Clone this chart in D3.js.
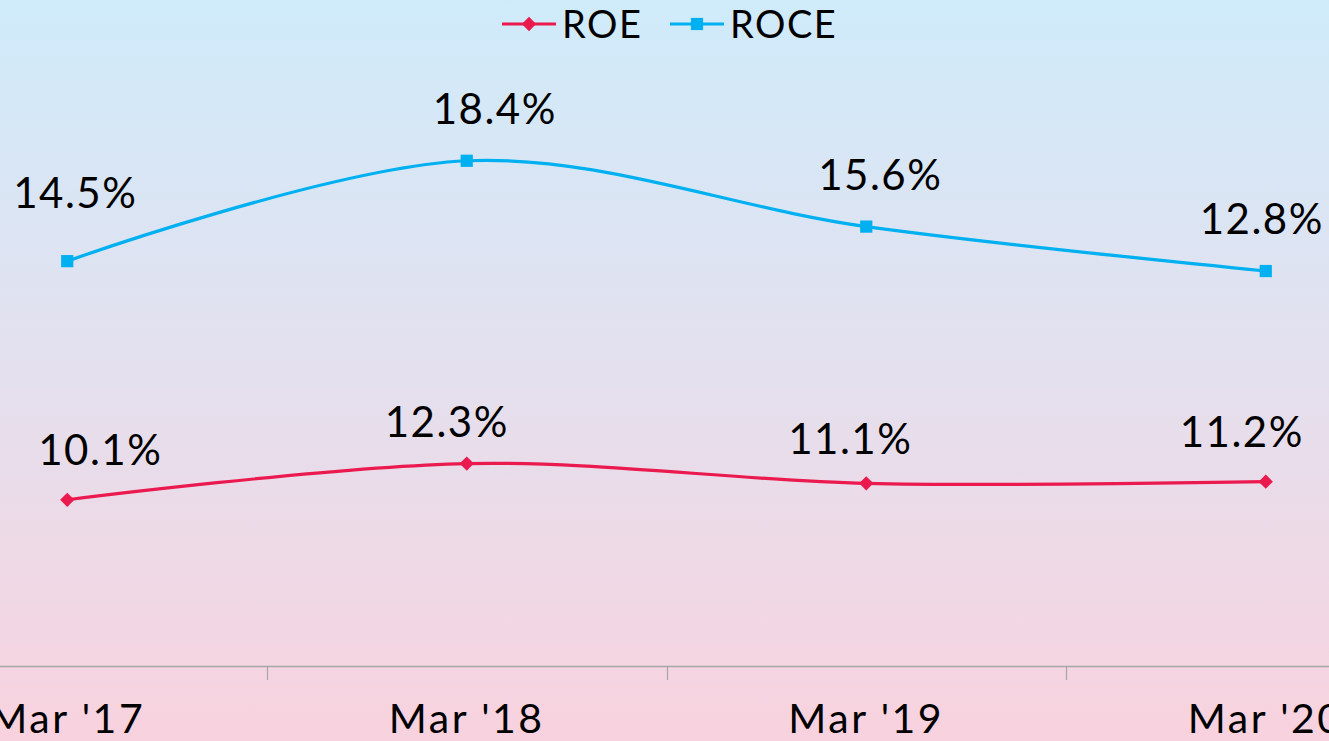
<!DOCTYPE html>
<meta charset="utf-8">
<style>
  html, body { margin: 0; padding: 0; overflow: hidden; }
  text { font-family: "Lato", "Open Sans", sans-serif; fill: #000; }
</style>
<script src="https://cdnjs.cloudflare.com/ajax/libs/d3/7.8.5/d3.min.js"></script>
<div id="chart"></div>
<script>
  // data
  var periods = ["Mar '17", "Mar '18", "Mar '19", "Mar '20"];
  var roe = [10.1, 12.3, 11.1, 11.2];
  var roce = [14.5, 18.4, 15.6, 12.8];

  // label nudges (dx, dy from point) - placed by hand like the original
  var roeNudge = [[33, -35], [-20, -27], [-16, -29], [-24, -35]];
  var roceNudge = [[8, -53], [28, -37], [14, -37], [-4, -37]];

  var W = 1329, H = 741;

  var svg = d3.select("#chart").append("svg")
    .attr("width", W)
    .attr("height", H);

  // background gradient
  var grad = svg.append("defs").append("linearGradient")
    .attr("id", "bg")
    .attr("x1", 0).attr("y1", 0).attr("x2", 0).attr("y2", 1);
  grad.append("stop").attr("offset", "0%").attr("stop-color", "#cfebfa");
  grad.append("stop").attr("offset", "50%").attr("stop-color", "#e4e0ee");
  grad.append("stop").attr("offset", "100%").attr("stop-color", "#f8d2de");

  svg.append("rect")
    .attr("width", W).attr("height", H)
    .attr("fill", "url(#bg)");

  // stacked lines: ROCE sits on top of ROE
  var rows = periods.map(function (p, i) { return { period: p, ROE: roe[i], ROCE: roce[i] } });
  var stack = d3.stack().keys(["ROE", "ROCE"])(rows);

  var x = d3.scaleBand()
    .domain(periods)
    .range([-132.5, 1465.5]);

  var y = d3.scaleLinear()
    .domain([0, 35])
    .range([666, 90]);

  var cx = function (p) { return x(p) + x.bandwidth() / 2 };

  // x axis
  var axisY = y(0);
  svg.append("line")
    .attr("x1", 0).attr("x2", W)
    .attr("y1", axisY + 0.5).attr("y2", axisY + 0.5)
    .attr("stroke", "#a6a6a6")
    .attr("stroke-width", 1.5);

  svg.selectAll(".tick")
    .data(periods.slice(1))
    .enter().append("line")
    .attr("class", "tick")
    .attr("x1", function (d) { return Math.round(x(d)) + 0.5 })
    .attr("x2", function (d) { return Math.round(x(d)) + 0.5 })
    .attr("y1", axisY)
    .attr("y2", axisY + 14)
    .attr("stroke", "#a6a6a6")
    .attr("stroke-width", 1.2);

  svg.selectAll(".xlab")
    .data(periods)
    .enter().append("text")
    .attr("class", "xlab")
    .attr("x", function (d) { return cx(d) })
    .attr("y", 733)
    .attr("text-anchor", "middle")
    .style("font-size", "41px")
    .style("letter-spacing", "2.5px")
    .text(function (d) { return d });

  var series = [
    { key: "ROE", color: "#ea1a4f", layer: stack[0], values: roe, nudge: roeNudge, shape: d3.symbolDiamond2, size: 130 },
    { key: "ROCE", color: "#00b0f0", layer: stack[1], values: roce, nudge: roceNudge, shape: d3.symbolSquare2, size: 190 }
  ];

  var line = d3.line()
    .x(function (d) { return cx(d.data.period) })
    .y(function (d) { return y(d[1]) })
    .curve(d3.curveCardinal.tension(0));

  series.forEach(function (s) {
    svg.append("path")
      .datum(s.layer)
      .attr("d", line)
      .attr("fill", "none")
      .attr("stroke", s.color)
      .attr("stroke-width", 3.2);

    svg.selectAll(".m-" + s.key)
      .data(s.layer)
      .enter().append("path")
      .attr("class", "m-" + s.key)
      .attr("d", d3.symbol().type(s.shape).size(s.size))
      .attr("transform", function (d) { return "translate(" + cx(d.data.period) + "," + y(d[1]) + ")" })
      .attr("fill", s.color);

    svg.selectAll(".l-" + s.key)
      .data(s.layer)
      .enter().append("text")
      .attr("class", "l-" + s.key)
      .attr("x", function (d, i) { return cx(d.data.period) + s.nudge[i][0] })
      .attr("y", function (d, i) { return y(d[1]) + s.nudge[i][1] })
      .attr("text-anchor", "middle")
      .style("font-size", "42px")
      .style("letter-spacing", "1.5px")
      .text(function (d, i) { return s.values[i].toFixed(1) + "%" });
  });

  // legend
  var legendX = [502, 670];
  series.forEach(function (s, i) {
    var g = svg.append("g").attr("transform", "translate(" + legendX[i] + ",24)");
    g.append("line")
      .attr("x1", 0).attr("x2", 54)
      .attr("stroke", s.color)
      .attr("stroke-width", 3.2);
    g.append("path")
      .attr("d", d3.symbol().type(s.shape).size(s.size))
      .attr("transform", "translate(27,0)")
      .attr("fill", s.color);
    g.append("text")
      .attr("x", 60)
      .attr("y", 14)
      .style("font-size", "38px")
      .style("letter-spacing", "1.5px")
      .text(s.key);
  });
</script>
